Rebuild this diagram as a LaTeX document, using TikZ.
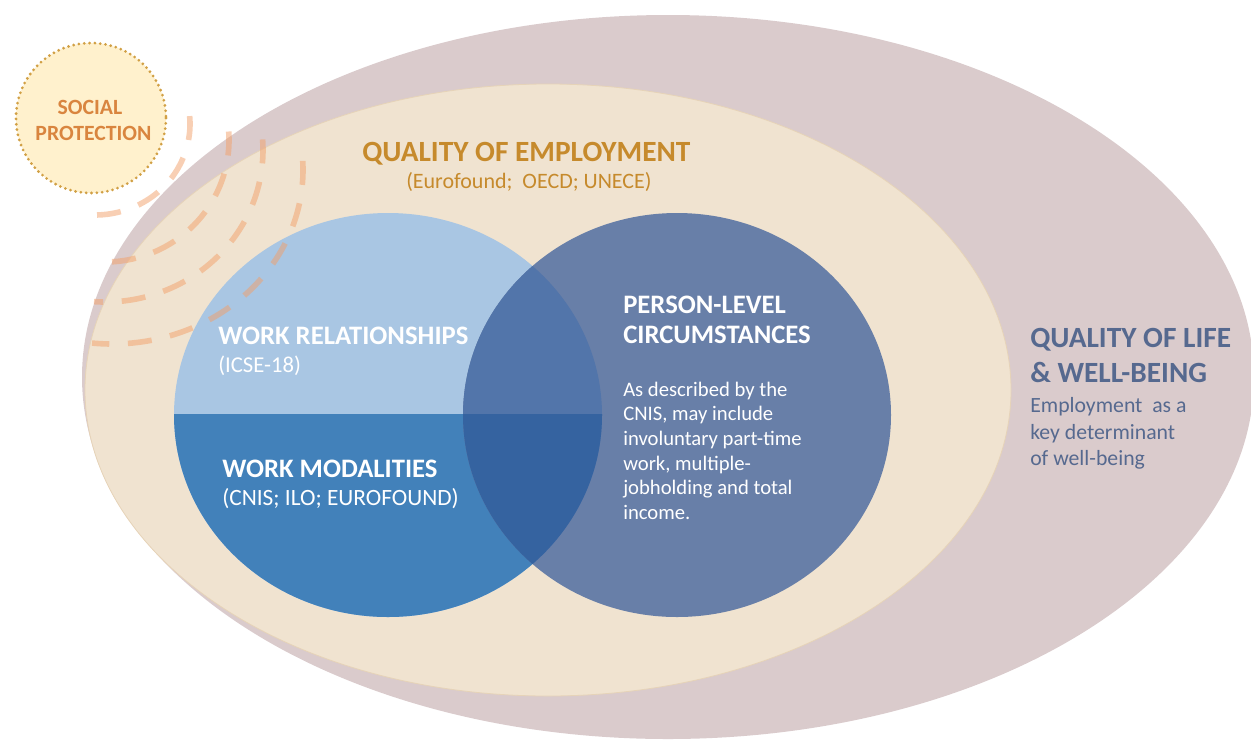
\documentclass[tikz,border=0pt]{standalone}
\usepackage{fontspec}
\setmainfont{Carlito}
\definecolor{mauve}{HTML}{DACBCC}
\definecolor{beige}{HTML}{F0E3D0}
\definecolor{beigeedge}{HTML}{E6D3B8}
\definecolor{lightblue}{HTML}{A9C6E3}
\definecolor{midblue}{HTML}{4281BA}
\definecolor{slate}{HTML}{687FA8}
\definecolor{lenstop}{HTML}{5275AA}
\definecolor{lensbot}{HTML}{3563A0}
\definecolor{socfill}{HTML}{FFF1CD}
\definecolor{socdot}{HTML}{D1A045}
\definecolor{soctext}{HTML}{D9853F}
\definecolor{qoetext}{HTML}{C68A2C}
\definecolor{qoltext}{HTML}{56698F}
\definecolor{arccol}{HTML}{F2A06A}
\begin{document}
\begin{tikzpicture}[x=0.75pt,y=-0.75pt,
  lbl/.style={inner sep=0pt, anchor=base west},
  hdw/.style={lbl, text=white, font=\bfseries\fontsize{20}{24}\selectfont},
  subw/.style={lbl, text=white, font=\fontsize{17}{20}\selectfont},
  bodyw/.style={lbl, text=white, font=\fontsize{15.5}{19}\selectfont},
  qoehd/.style={lbl, text=qoetext, font=\bfseries\fontsize{22}{26}\selectfont},
  qoesub/.style={lbl, text=qoetext, font=\fontsize{16.5}{20}\selectfont},
  qolhd/.style={lbl, text=qoltext, font=\bfseries\fontsize{22}{26}\selectfont},
  qolbody/.style={lbl, text=qoltext, font=\fontsize{16.3}{20}\selectfont},
  soclbl/.style={inner sep=0pt, anchor=base, text=soctext, font=\bfseries\fontsize{16.3}{20}\selectfont},
  dasharc/.style={draw=arccol, draw opacity=0.5, line width=4.2pt, dash pattern=on 18pt off 14pt}
]
\useasboundingbox (0,0) rectangle (1251,740);

% outer ellipse: quality of life
\fill[mauve] (668,377) ellipse [x radius=586, y radius=362];
% quality of employment ellipse
\filldraw[fill=beige, draw=beigeedge, line width=0.6pt] (548,390) ellipse [x radius=463, y radius=306];

% left circle (work relationships / modalities)
\fill[lightblue] (388,415) ellipse [x radius=214, y radius=202];
\begin{scope}
  \clip (0,414) rectangle (1251,740);
  \fill[midblue] (388,415) ellipse [x radius=214, y radius=202];
\end{scope}
% right circle (person-level circumstances)
\fill[slate] (677,415) ellipse [x radius=214, y radius=202];
% lens
\begin{scope}
  \clip (388,415) ellipse [x radius=214, y radius=202];
  \fill[lenstop] (677,415) ellipse [x radius=214, y radius=202];
  \clip (0,414) rectangle (1251,740);
  \fill[lensbot] (677,415) ellipse [x radius=214, y radius=202];
\end{scope}

% dashed arcs of social protection
\draw[dasharc] ([shift={(-5:95 and 91)}]95,124) arc[start angle=-5, end angle=92, x radius=95, y radius=91];
\draw[dasharc] ([shift={(-4:124 and 122)}]105,140) arc[start angle=-4, end angle=93, x radius=124, y radius=122];
\draw[dasharc] ([shift={(-4:158 and 152)}]105,150) arc[start angle=-4, end angle=94, x radius=158, y radius=152];
\draw[dasharc] ([shift={(-3:191 and 174)}]112,170) arc[start angle=-3, end angle=96, x radius=191, y radius=174];

% social protection circle
\filldraw[fill=socfill, draw=socdot, line width=2.3pt, line cap=round, dash pattern=on 0pt off 4pt] (91,118) circle [radius=75];
\node[soclbl] (soc1) at (90,114) {SOCIAL};
\node[soclbl] (soc2) at (93.5,140) {PROTECTION};

% quality of employment
\node[qoehd] (qoe) at (362,161) {QUALITY OF EMPLOYMENT};
\node[qoesub] (qoesrc) at (406,188) {(Eurofound;\ \ OECD; UNECE)};

% work relationships
\node[hdw] (wr) at (218,344) {WORK RELATIONSHIPS};
\node[subw] (wrsrc) at (218,372) {(ICSE-18)};
% work modalities
\node[hdw] (wm) at (222,477) {WORK MODALITIES};
\node[subw, font=\fontsize{17.5}{20}\selectfont] (wmsrc) at (222,505) {(CNIS; ILO; EUROFOUND)};

% person-level circumstances
\node[hdw] (pl1) at (623,313.5) {PERSON-LEVEL};
\node[hdw] (pl2) at (623,343.5) {CIRCUMSTANCES};
\node[bodyw] (b1) at (623,396) {As described by the};
\node[bodyw] (b2) at (623,420.7) {CNIS, may include};
\node[bodyw] (b3) at (623,445.4) {involuntary part-time};
\node[bodyw] (b4) at (623,470.1) {work, multiple-};
\node[bodyw] (b5) at (623,494.8) {jobholding and total};
\node[bodyw] (b6) at (623,519.5) {income.};

% quality of life
\node[qolhd] (ql1) at (1030,347.5) {QUALITY OF LIFE};
\node[qolhd] (ql2) at (1030,382.5) {\& WELL-BEING};
\node[qolbody] (qb1) at (1030,412) {Employment\ \ as a};
\node[qolbody] (qb2) at (1030,439) {key determinant};
\node[qolbody] (qb3) at (1030,465) {of well-being};
\end{tikzpicture}
\end{document}
